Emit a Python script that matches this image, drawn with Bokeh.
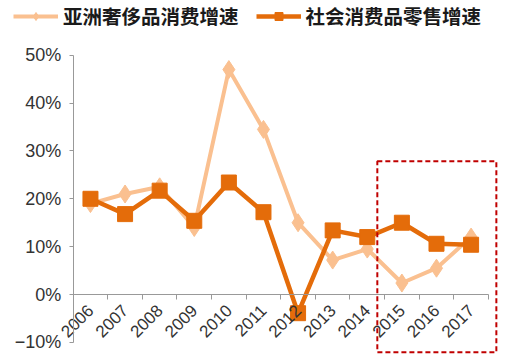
import math
from bokeh.plotting import figure
from bokeh.models import FixedTicker, Range1d, BoxAnnotation, Legend, LegendItem
from bokeh.embed import file_html
from bokeh.resources import INLINE

years = ["2006", "2007", "2008", "2009", "2010", "2011", "2012", "2013", "2014", "2015", "2016", "2017"]
luxury = [19.0, 21.0, 22.5, 14.0, 47.0, 34.5, 15.0, 7.2, 9.5, 2.4, 5.5, 12.0]
retail = [20.0, 16.8, 21.7, 15.4, 23.4, 17.2, -3.9, 13.4, 12.0, 15.0, 10.6, 10.4]
y_ticks = [-10, 0, 10, 20, 30, 40, 50]
y_labels = ["−10%", "0%", "10%", "20%", "30%", "40%", "50%"]
name_lux = "亚洲奢侈品消费增速"
name_ret = "社会消费品零售增速"

LIGHT = "#FAC090"
DARK = "#E46C0A"

xs = list(range(len(years)))

p = figure(width=500, height=356, output_backend="svg", toolbar_location=None,
           x_range=Range1d(-2.60, 11.85), y_range=Range1d(-12.95, 61.43),
           min_border_left=0, min_border_right=0, min_border_bottom=0, min_border_top=0)
p.grid.visible = False
p.outline_line_color = None
p.background_fill_color = "white"

# highlight box
p.add_layout(BoxAnnotation(left=8.29, right=11.73, bottom=-12.06, top=27.85,
                           fill_color=None, fill_alpha=0, line_color="#C00000",
                           line_alpha=1.0, line_width=2, line_dash="5 3"))

l1 = p.line(xs, luxury, line_color=LIGHT, line_width=4)
m1 = p.scatter(xs, luxury, marker="diamond", size=18, fill_color=LIGHT, line_color=LIGHT)
l2 = p.line(xs, retail, line_color=DARK, line_width=4.5)
m2 = p.scatter(xs, retail, marker="square", size=15, fill_color=DARK, line_color=DARK)

# x axis at 0
xa = p.xaxis[0]
xa.fixed_location = 0
xa.bounds = (-0.5, 11.5)
xa.ticker = FixedTicker(ticks=xs, minor_ticks=[i - 0.5 for i in range(len(years) + 1)])
xa.major_label_overrides = {i: y for i, y in enumerate(years)}
xa.major_label_orientation = math.pi / 4
xa.major_tick_out = 0
xa.major_tick_in = 0
xa.minor_tick_out = 5
xa.minor_tick_in = 0
xa.axis_line_color = "#999999"
xa.minor_tick_line_color = "#999999"
xa.major_label_text_font = "Liberation Sans"
xa.major_label_text_font_size = "17px"
xa.major_label_text_color = "#333333"
xa.major_label_standoff = 8

ya = p.yaxis[0]
ya.fixed_location = -0.5
ya.bounds = (-10, 50)
ya.ticker = FixedTicker(ticks=y_ticks, minor_ticks=[])
ya.major_label_overrides = {t: l for t, l in zip(y_ticks, y_labels)}
ya.major_tick_out = 4
ya.major_tick_in = 0
ya.axis_line_color = "#999999"
ya.major_tick_line_color = "#999999"
ya.major_label_text_font = "Liberation Sans"
ya.major_label_text_font_size = "18px"
ya.major_label_text_color = "#333333"
ya.major_label_standoff = 8

legend = Legend(items=[LegendItem(label=name_lux, renderers=[l1, m1]),
                       LegendItem(label=name_ret, renderers=[l2, m2])],
                orientation="horizontal", location=(13, 326),
                label_text_font="Noto Sans CJK SC", label_text_font_style="bold",
                label_text_font_size="19.5px", label_text_color="#1a1a1a",
                glyph_width=45, label_standoff=5, spacing=17, padding=2, margin=0,
                border_line_color=None, background_fill_alpha=0)
p.add_layout(legend, "center")

open("out.html", "w").write(file_html(p, INLINE))
